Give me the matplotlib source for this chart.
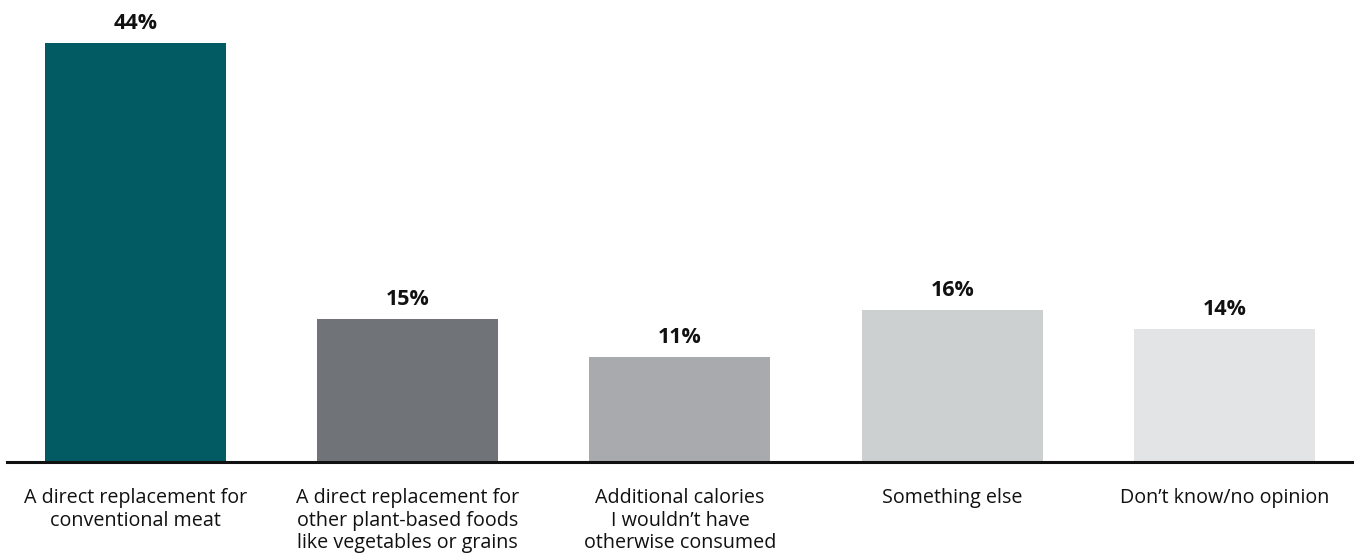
import matplotlib
matplotlib.use("Agg")
import matplotlib.pyplot as plt

categories = [
    "A direct replacement for\nconventional meat",
    "A direct replacement for\nother plant-based foods\nlike vegetables or grains",
    "Additional calories\nI wouldn\u2019t have\notherwise consumed",
    "Something else",
    "Don\u2019t know/no opinion",
]
values = [44, 15, 11, 16, 14]
colors = ["#025a62", "#707479", "#a8aaae", "#cdd0d0", "#e3e4e5"]

plt.rcParams['font.family'] = ['Open Sans', 'DejaVu Sans']

fig = plt.figure(figsize=(13.54, 5.57), dpi=100)
ax = fig.add_axes([7 / 1354, 95 / 557, 1 - 7 / 1354, 462 / 557])

x = list(range(len(values)))
ax.bar(x, values, width=0.665, color=colors, zorder=2)

# value labels above bars
for xi, v in zip(x, values):
    ax.annotate(f"{v}%", (xi, v), xytext=(0, 10), textcoords="offset points",
                ha="center", va="baseline", fontsize=15.5, fontweight="bold",
                color="#111111")

# category labels below the axis line
for xi, lab in zip(x, categories):
    ax.annotate(lab, (xi, 0), xytext=(0, -18.5), textcoords="offset points",
                ha="center", va="top", fontsize=14.2, color="#111111",
                linespacing=1.19, annotation_clip=False)

ax.set_xlim(-0.472, 4.476)
ax.set_ylim(0, 48.5)
ax.axhline(0, color="#111111", lw=2.2, zorder=3, clip_on=False)
for s in ax.spines.values():
    s.set_visible(False)
ax.set_xticks([])
ax.set_yticks([])

fig.savefig("out.png", dpi=100, facecolor="white")
